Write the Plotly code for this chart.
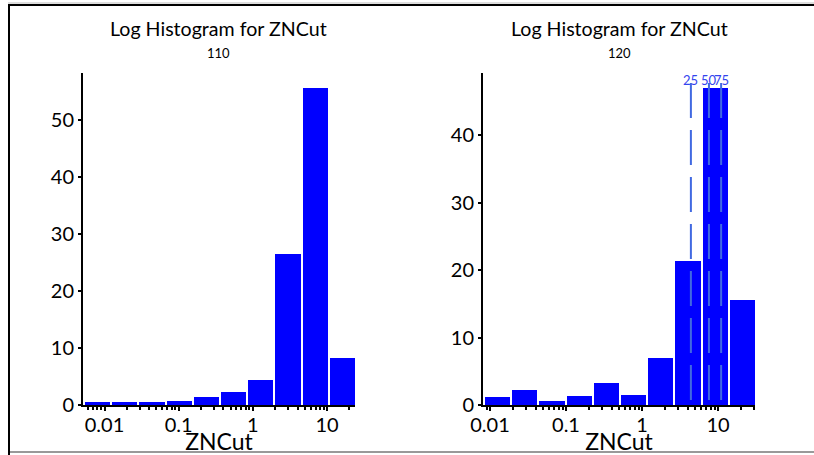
import numpy as np
import plotly.graph_objects as go

# ---- data ----
left_log_edges = [-2.290, -1.923, -1.557, -1.190, -0.823, -0.457, -0.090, 0.277, 0.644, 1.010, 1.377]
left_counts = [0.6, 0.6, 0.6, 0.7, 1.4, 2.3, 4.4, 26.5, 55.6, 8.2]
right_log_edges = [-2.092, -1.734, -1.376, -1.018, -0.660, -0.303, 0.055, 0.413, 0.771, 1.129, 1.487]
right_counts = [1.2, 2.2, 0.6, 1.3, 3.3, 1.5, 7.0, 21.3, 47.0, 15.5]
quantile_labels = ["25", "50", "75"]
quantile_values = [4.4, 7.6, 11.0]
quantile_height = 47.7
major_tick_vals = [0.01, 0.1, 1, 10]
major_tick_text = ["0.01", "0.1", "1", "10"]
title_text = "Log Histogram for ZNCut"
subtitles = ["110", "120"]
x_title = "ZNCut"

W, H = 814, 455
FONT = "Lato, 'Open Sans', sans-serif"
BAR = "#0000ff"
QCOL = "#4169e1"

fig = go.Figure()


def add_hist(edges, counts, xa, ya):
    e = np.array(edges)
    w = e[1:] - e[:-1]
    gap = w * 0.075
    fig.add_trace(go.Bar(
        x=e[:-1], y=counts, width=w - gap, offset=gap,
        marker=dict(color=BAR, line=dict(width=0)),
        xaxis=xa, yaxis=ya, showlegend=False, hoverinfo="y"))


add_hist(left_log_edges, left_counts, "x", "y")
add_hist(right_log_edges, right_counts, "x2", "y2")

for q in quantile_values:
    lx = np.log10(q)
    fig.add_trace(go.Scatter(
        x=[lx, lx], y=[quantile_height, 0], mode="lines",
        line=dict(color=QCOL, width=2, dash="35px,12px"),
        xaxis="x2", yaxis="y2", showlegend=False, hoverinfo="skip"))

# ticks
major_pos = [float(np.log10(v)) for v in major_tick_vals]
minor_pos = []
for d in range(-3, 2):
    for m in range(2, 10):
        minor_pos.append(float(np.log10(m * 10.0 ** d)))


def xaxis_cfg(domain, edges):
    lo, hi = edges[0], edges[-1]
    mp = [p for p in minor_pos if lo <= p <= hi]
    return dict(
        domain=domain, range=[lo, hi], showgrid=False, zeroline=False,
        showline=True, linecolor="black", linewidth=2, automargin=False,
        tickmode="array", tickvals=major_pos, ticktext=major_tick_text,
        ticks="outside", ticklen=4, tickwidth=2, tickcolor="black",
        ticklabelstandoff=-3,
        tickfont=dict(family=FONT, size=20, color="black"),
        minor=dict(tickmode="array", tickvals=mp, ticks="outside", ticklen=3,
                   tickwidth=2, tickcolor="black", showgrid=False),
        title=dict(text=x_title, font=dict(family=FONT, size=23, color="black"),
                   standoff=0),
        fixedrange=True,
    )


def yaxis_cfg(domain, top, anchor):
    return dict(
        domain=domain, range=[0, top], showgrid=False, zeroline=False,
        showline=True, linecolor="black", linewidth=2, anchor=anchor, automargin=False,
        tickmode="linear", tick0=0, dtick=10,
        ticks="outside", ticklen=3, tickwidth=2, tickcolor="black",
        tickfont=dict(family=FONT, size=20, color="black"),
        fixedrange=True,
    )


ydom = [50 / H, 382 / H]
fig.update_layout(
    width=W, height=H, margin=dict(l=0, r=0, t=0, b=0, autoexpand=False),
    paper_bgcolor="white", plot_bgcolor="white", bargap=0,
    xaxis=dict(xaxis_cfg([83 / W, 355 / W], left_log_edges), anchor="y"),
    yaxis=yaxis_cfg(ydom, 58.2, "x"),
    xaxis2=dict(xaxis_cfg([483 / W, 755 / W], right_log_edges), anchor="y2"),
    yaxis2=yaxis_cfg(ydom, 49.2, "x2"),
)

annotations = []
for cx, sub in zip([219, 619], subtitles):
    annotations.append(dict(x=cx / W, y=1 - 29 / H, xref="paper", yref="paper",
                            text=title_text, showarrow=False, xanchor="center", yanchor="middle",
                            font=dict(family=FONT, size=19.6, color="black")))
    annotations.append(dict(x=cx / W, y=1 - 53 / H, xref="paper", yref="paper",
                            text=sub, showarrow=False, xanchor="center", yanchor="middle",
                            font=dict(family=FONT, size=13, color="black")))
for lab, q in zip(quantile_labels, quantile_values):
    annotations.append(dict(x=float(np.log10(q)), y=48.1, xref="x2", yref="y2",
                            text=lab, showarrow=False, xanchor="center", yanchor="middle",
                            font=dict(family=FONT, size=13, color="#3344ee")))
fig.update_layout(annotations=annotations)

# frame
fig.update_layout(shapes=[
    dict(type="line", xref="paper", yref="paper", x0=9 / W, x1=9 / W, y0=0, y1=1 - 4 / H,
         line=dict(color="black", width=2)),
    dict(type="line", xref="paper", yref="paper", x0=8 / W, x1=1, y0=1 - 5 / H, y1=1 - 5 / H,
         line=dict(color="black", width=2)),
    dict(type="line", xref="paper", yref="paper", x0=8 / W, x1=1, y0=1 - 3 / H, y1=1 - 3 / H,
         line=dict(color="#bbbbbb", width=1)),
    dict(type="line", xref="paper", yref="paper", x0=10 / W, x1=1, y0=1 - 452 / H, y1=1 - 452 / H,
         line=dict(color="#999999", width=2)),
])

fig.write_html("out.html")
